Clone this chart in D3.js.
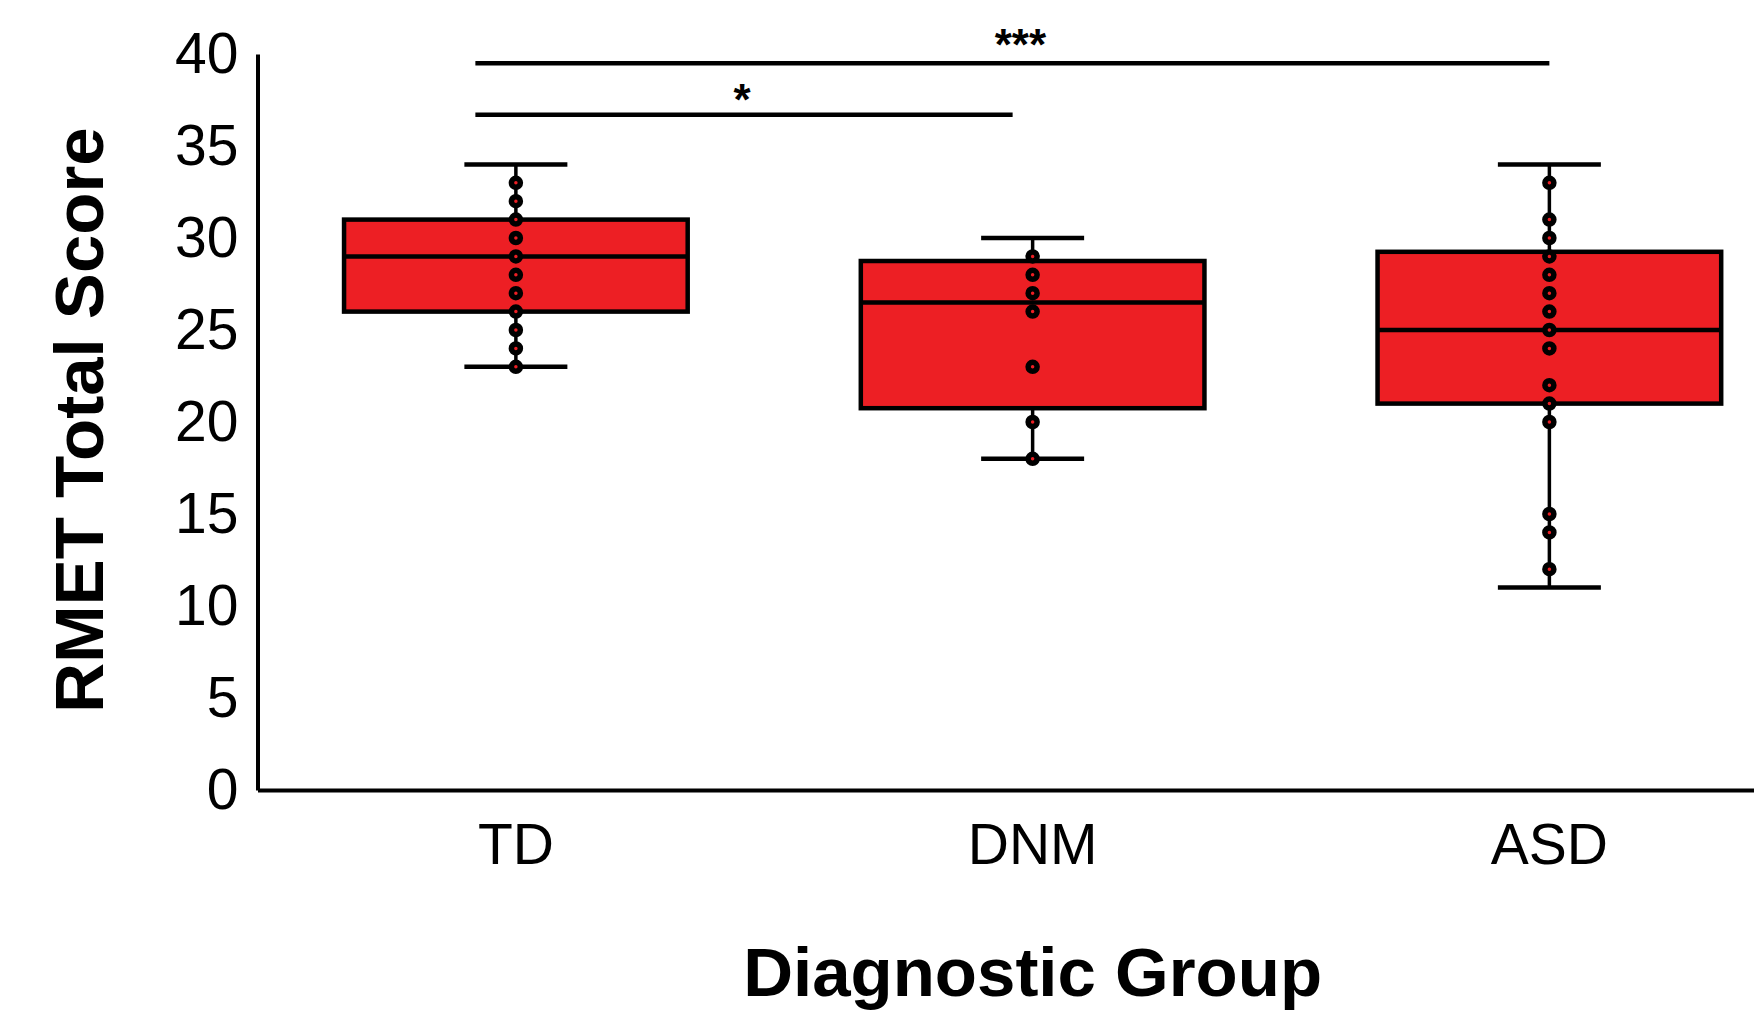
<!DOCTYPE html>
<html>
<head>
<meta charset="utf-8">
<script src="https://cdn.jsdelivr.net/npm/d3@7"></script>
<style>
  body { margin: 0; background: #ffffff; }
  svg text { font-family: "Liberation Sans", Arial, Helvetica, sans-serif; fill: #000; }
</style>
</head>
<body>
<div id="chart-area"></div>
<script>
// group summaries
var categories = ["TD", "DNM", "ASD"];
var q1 = [26, 20.75, 21];
var medians = [29, 26.5, 25];
var q3 = [31, 28.75, 29.25];
var whiskerLow = [23, 18, 11];
var whiskerHigh = [34, 30, 34];

// individual scores per group
var tdScores = [33, 32, 31, 30, 29, 28, 27, 26, 25, 24, 23];
var dnmScores = [29, 28, 27, 26, 23, 20, 18];
var asdScores = [33, 31, 30, 29, 28, 27, 26, 25, 24, 22, 21, 20, 15, 14, 12];

var yTicks = [0, 5, 10, 15, 20, 25, 30, 35, 40];

// significance brackets
var sigFrom = ["TD", "TD"];
var sigTo = ["ASD", "DNM"];
var sigLevel = [39.5, 36.7];
var sigLabel = ["***", "*"];

var chartDimensions = {
    width: 1754,
    height: 1012,
    left: 257.5,
    step: 516.75,
    top: 54,
    bottom: 790
};

var boxColor = "#ed1f24";

var svg = d3.select("#chart-area")
    .append("svg")
    .attr("width", chartDimensions.width)
    .attr("height", chartDimensions.height);

var x = d3.scaleBand()
    .domain(categories)
    .range([chartDimensions.left, chartDimensions.left + chartDimensions.step * categories.length])
    .padding(0);

var y = d3.scaleLinear()
    .domain([0, 40])
    .range([chartDimensions.bottom, chartDimensions.top]);

function center(cat) {
    return x(cat) + x.bandwidth() / 2;
}

var boxWidth = x.bandwidth() * 0.665;
var capWidth = 103;

// axes
var xAxis = svg.append("g")
    .attr("transform", "translate(0," + chartDimensions.bottom + ")")
    .call(d3.axisBottom(x).tickSize(0).tickPadding(34));
xAxis.select(".domain").attr("stroke", "#000").attr("stroke-width", 4);
xAxis.selectAll("text")
    .style("font-size", "57px")
    .style("font-family", "'Liberation Sans', Arial, sans-serif");

var yAxis = svg.append("g")
    .attr("transform", "translate(" + chartDimensions.left + ",0)")
    .call(d3.axisLeft(y).tickValues(yTicks).tickSize(0).tickSizeOuter(0).tickPadding(19));
yAxis.select(".domain").attr("stroke", "#000").attr("stroke-width", 4);
yAxis.selectAll("text")
    .style("font-size", "57px")
    .style("font-family", "'Liberation Sans', Arial, sans-serif");

// boxes
var groups = categories.map(function (cat, i) {
    return {
        cat: cat,
        q1: q1[i],
        median: medians[i],
        q3: q3[i],
        lo: whiskerLow[i],
        hi: whiskerHigh[i]
    };
});

var boxes = svg.append("g").attr("id", "boxes");

groups.forEach(function (g) {
    var cx = center(g.cat);
    var grp = boxes.append("g");

    // whiskers, box edge to cap
    grp.append("line")
        .attr("x1", cx).attr("x2", cx)
        .attr("y1", y(g.q3)).attr("y2", y(g.hi))
        .attr("stroke", "#000").attr("stroke-width", 3.5);
    grp.append("line")
        .attr("x1", cx).attr("x2", cx)
        .attr("y1", y(g.q1)).attr("y2", y(g.lo))
        .attr("stroke", "#000").attr("stroke-width", 3.5);

    [g.hi, g.lo].forEach(function (v) {
        grp.append("line")
            .attr("x1", cx - capWidth / 2).attr("x2", cx + capWidth / 2)
            .attr("y1", y(v)).attr("y2", y(v))
            .attr("stroke", "#000").attr("stroke-width", 4.5);
    });

    grp.append("rect")
        .attr("x", cx - boxWidth / 2)
        .attr("y", y(g.q3))
        .attr("width", boxWidth)
        .attr("height", y(g.q1) - y(g.q3))
        .attr("fill", boxColor)
        .attr("stroke", "#000")
        .attr("stroke-width", 4.5);

    grp.append("line")
        .attr("x1", cx - boxWidth / 2).attr("x2", cx + boxWidth / 2)
        .attr("y1", y(g.median)).attr("y2", y(g.median))
        .attr("stroke", "#000").attr("stroke-width", 4.5);
});

// points
var pointSets = [
    { cat: "TD", values: tdScores },
    { cat: "DNM", values: dnmScores },
    { cat: "ASD", values: asdScores }
];

var points = svg.append("g").attr("id", "points");
pointSets.forEach(function (set) {
    points.selectAll(null)
        .data(set.values)
        .enter().append("circle")
        .attr("cx", center(set.cat))
        .attr("cy", function (v) { return y(v); })
        .attr("r", 4.5)
        .attr("fill", boxColor)
        .attr("stroke", "#000")
        .attr("stroke-width", 5.5);
});

// significance bars
var barStartOffset = -40.5;
var barEndOffset = [0, -20];
var sig = svg.append("g").attr("id", "significance");
sigLevel.forEach(function (level, i) {
    var x1 = center(sigFrom[i]) + barStartOffset;
    var x2 = center(sigTo[i]) + barEndOffset[i];
    sig.append("line")
        .attr("x1", x1).attr("x2", x2)
        .attr("y1", y(level)).attr("y2", y(level))
        .attr("stroke", "#000").attr("stroke-width", 4.5);
    sig.append("text")
        .attr("x", (x1 + x2) / 2 + (i === 0 ? 8 : -2))
        .attr("y", y(level) - (i === 0 ? 3 : 0))
        .attr("text-anchor", "middle")
        .style("font-size", "44px")
        .style("font-weight", "bold")
        .text(sigLabel[i]);
});

// axis titles
svg.append("text")
    .attr("x", center("DNM"))
    .attr("y", 996)
    .attr("text-anchor", "middle")
    .style("font-size", "69px")
    .style("font-weight", "bold")
    .text("Diagnostic Group");

svg.append("text")
    .attr("transform", "translate(103,420) rotate(-90)")
    .attr("text-anchor", "middle")
    .style("font-size", "69px")
    .style("font-weight", "bold")
    .text("RMET Total Score");
</script>
</body>
</html>
